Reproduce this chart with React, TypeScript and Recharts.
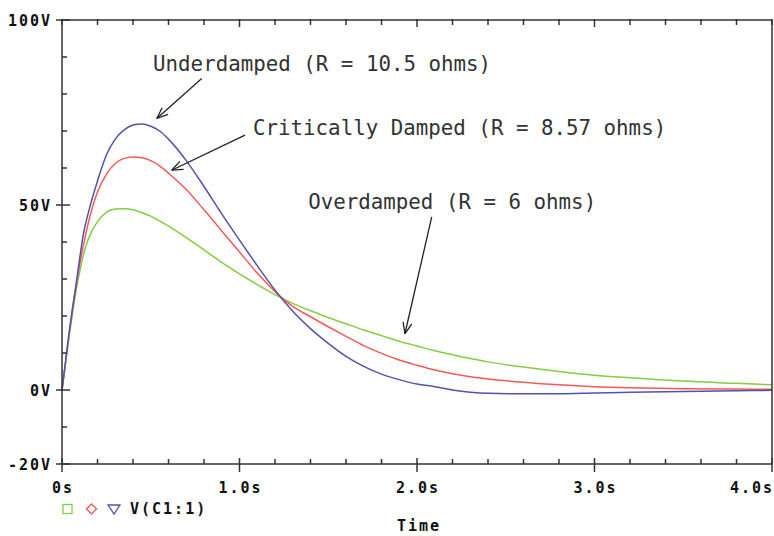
import React from "react";
import {
  Legend,
  Line,
  LineChart,
  ReferenceDot,
  ReferenceLine,
  XAxis,
  YAxis
} from "recharts";

// sample times (s)
const times = [
  0, 0.02, 0.04, 0.06, 0.08, 0.1, 0.12, 0.15, 0.2, 0.25,
  0.3, 0.35, 0.4, 0.45, 0.5, 0.55, 0.6, 0.7, 0.8, 0.9,
  1.0, 1.1, 1.2, 1.3, 1.4, 1.5, 1.6, 1.7, 1.8, 1.9,
  2.0, 2.1, 2.2, 2.3, 2.4, 2.6, 2.8, 3.0, 3.2, 3.5,
  3.8, 4.0
];

// V(C1:1) for each resistor value
const underdamped = [
  0, 7.7, 15.5, 22.5, 28.8, 35.7, 42, 48.2, 56.5, 63.5,
  67.8, 70.3, 71.6, 71.9, 71.3, 70.0, 67.8, 62.0, 55.0, 47.6,
  40.5, 33.6, 27.0, 21.3, 16.6, 12.6, 9.1, 6.4, 4.3, 2.8,
  1.6, 0.9, 0.0, -0.6, -0.9, -1.0, -1.0, -0.8, -0.6, -0.4,
  -0.2, -0.1
];
const critical = [
  0, 7.5, 15, 22, 28.3, 34, 39, 45.5, 53.5, 58.3,
  61.2, 62.6, 63.0, 62.8, 62.0, 60.6, 58.6, 54.2, 48.7, 43.0,
  37.3, 31.6, 26.6, 22.6, 19.8, 17.1, 14.5, 12.0, 9.9, 8.1,
  6.7, 5.4, 4.4, 3.6, 3.0, 2.1, 1.4, 0.9, 0.6, 0.35,
  0.25, 0.2
];
const overdamped = [
  0, 7.3, 14.5, 21, 27, 32, 36.5, 41, 45.5, 48,
  48.9, 49.0, 48.7, 47.9, 47.0, 45.7, 44.3, 41.2, 37.9, 34.5,
  31.4, 28.5, 25.8, 23.4, 21.4, 19.6, 17.9, 16.2, 14.7, 13.2,
  11.9, 10.6, 9.5, 8.5, 7.6, 6.2, 5.0, 4.0, 3.3, 2.4,
  1.8, 1.4
];

const xTicks = [
  0, 0.2, 0.4, 0.6, 0.8, 1, 1.2, 1.4, 1.6, 1.8, 2,
  2.2, 2.4, 2.6, 2.8, 3, 3.2, 3.4, 3.6, 3.8, 4
];
const xLabelTicks = [0, 1, 2, 3, 4];
const yTicks = [-20, -10, 0, 10, 20, 30, 40, 50, 60, 70, 80, 90, 100];
const yLabelTicks = [-20, 0, 50, 100];

// annotations, in data units (s, V)
const notes = [
  { text: "Underdamped (R = 10.5 ohms)", t: 0.513, v: 86.2, from: [0.787, 84.2], to: [0.534, 73.4] },
  { text: "Critically Damped (R = 8.57 ohms)", t: 1.076, v: 68.9, from: [1.031, 68.9], to: [0.618, 59.4] },
  { text: "Overdamped (R = 6 ohms)", t: 1.387, v: 49.0, from: [2.083, 46.8], to: [1.932, 15.2] }
];

const data = times.map((t, i) => ({
  t,
  over: overdamped[i],
  crit: critical[i],
  under: underdamped[i]
}));

const AXIS = "#333";
const tickFont = {
  fontFamily: "'DejaVu Sans Mono', monospace",
  fontWeight: 700,
  fontSize: 15,
  letterSpacing: 2,
  fill: "#111"
};

const LeftTick = ({ x, y, payload }: any) => {
  const v = payload.value;
  const major = yLabelTicks.includes(v);
  return (
    <g>
      <line x1={major ? x - 6 : x} x2={x + (major ? 8 : 5)} y1={y} y2={y} stroke={AXIS} strokeWidth={1.5} />
      {major && (
        <text x={x - 10} y={y} dy={5.5} textAnchor="end" {...tickFont}>
          {`${v}V`}
        </text>
      )}
    </g>
  );
};

const RightTick = ({ x, y, payload }: any) => {
  const v = payload.value;
  const major = v === 0 || v === 50;
  return <line x1={x - (major ? 9 : 5)} x2={x} y1={y} y2={y} stroke={AXIS} strokeWidth={1.5} />;
};

const BottomTick = ({ x, y, payload }: any) => {
  const v = payload.value;
  const major = xLabelTicks.includes(v);
  const last = v === 4;
  return (
    <g>
      <line x1={x} x2={x} y1={major ? y + 8 : y} y2={y - (major ? 6 : 5)} stroke={AXIS} strokeWidth={1.5} />
      {major && (
        <text x={last ? x + 2 : x + 1} y={y + 29} textAnchor={last ? "end" : "middle"} {...tickFont}>
          {v === 0 ? "0s" : `${v.toFixed(1)}s`}
        </text>
      )}
    </g>
  );
};

const TopTick = ({ x, y, payload }: any) => {
  const v = payload.value;
  const major = v === 1 || v === 2 || v === 3;
  return <line x1={x} x2={x} y1={y - 1} y2={y + (major ? 7 : 5)} stroke={AXIS} strokeWidth={1.5} />;
};

const Arrow = (p: any) => {
  const { x1, y1, x2, y2 } = p;
  const a = Math.atan2(y2 - y1, x2 - x1);
  const h = 12;
  const s = 0.38;
  return (
    <g stroke="#222" strokeWidth={1.3} fill="none">
      <line x1={x1} y1={y1} x2={x2} y2={y2} />
      <line x1={x2} y1={y2} x2={x2 - h * Math.cos(a - s)} y2={y2 - h * Math.sin(a - s)} />
      <line x1={x2} y1={y2} x2={x2 - h * Math.cos(a + s)} y2={y2 - h * Math.sin(a + s)} />
    </g>
  );
};

// legend markers keyed by series, in the order shown
const markerOrder = ["over", "crit", "under"];

const Marker = ({ kind, color }: { kind: string; color: string }) => {
  if (kind === "over") return <rect x={1} y={5.5} width={9} height={9} fill="none" stroke={color} strokeWidth={1.3} />;
  if (kind === "crit") return <path d="M29.5 5 L34.5 10 L29.5 15 L24.5 10 Z" fill="none" stroke={color} strokeWidth={1.3} />;
  return <path d="M46 6 L58 6 L52 15 Z" fill="none" stroke={color} strokeWidth={1.3} />;
};

const LegendContent = ({ payload }: any) => {
  const items = payload || [];
  return (
    <div style={{ display: "flex", alignItems: "center", height: 20, paddingLeft: 62 }}>
      <svg width={68} height={20}>
        {markerOrder.map((k) => {
          const item = items.find((it: any) => it.dataKey === k);
          return item ? <Marker key={k} kind={k} color={item.color} /> : null;
        })}
      </svg>
      <span
        style={{
          fontFamily: "'DejaVu Sans Mono', monospace",
          fontWeight: 700,
          fontSize: 15,
          letterSpacing: 2,
          color: "#111",
          lineHeight: "20px"
        }}
      >
        V(C1:1)
      </span>
    </div>
  );
};

const TimeLabel = (p: any) => {
  const vb = p.viewBox;
  return (
    <text x={vb.x + vb.width / 2 + 2} y={vb.y + 67} textAnchor="middle" {...tickFont}>
      Time
    </text>
  );
};

export default function App() {
  return (
    <div style={{ position: "absolute", left: 0, top: 0, width: 774, height: 536, background: "#fff" }}>
      <LineChart width={774} height={536} data={data} margin={{ top: 0, right: 0, left: 0, bottom: 17 }}>
        <XAxis
          dataKey="t"
          type="number"
          domain={[0, 4]}
          ticks={xTicks}
          interval={0}
          height={35}
          tickSize={0}
          tickMargin={0}
          tickLine={false}
          axisLine={{ stroke: AXIS, strokeWidth: 1.5 }}
          tick={<BottomTick />}
          label={TimeLabel}
        />
        <XAxis
          xAxisId="top"
          orientation="top"
          dataKey="t"
          type="number"
          domain={[0, 4]}
          ticks={xTicks}
          interval={0}
          height={20}
          tickSize={0}
          tickMargin={0}
          tickLine={false}
          axisLine={{ stroke: AXIS, strokeWidth: 1.5 }}
          tick={<TopTick />}
        />
        <YAxis
          type="number"
          domain={[-20, 100]}
          ticks={yTicks}
          interval={0}
          width={62}
          tickSize={0}
          tickMargin={0}
          tickLine={false}
          axisLine={{ stroke: AXIS, strokeWidth: 1.5 }}
          tick={<LeftTick />}
        />
        <YAxis
          yAxisId="right"
          orientation="right"
          type="number"
          domain={[-20, 100]}
          ticks={yTicks}
          interval={0}
          width={2}
          tickSize={0}
          tickMargin={0}
          tickLine={false}
          axisLine={{ stroke: AXIS, strokeWidth: 1.5 }}
          tick={<RightTick />}
        />
        <Legend verticalAlign="bottom" align="left" content={<LegendContent />} />
        <Line type="monotone" dataKey="over" name="R = 6" stroke="#84cc44" strokeWidth={1.5} dot={false} activeDot={false} isAnimationActive={false} />
        <Line type="monotone" dataKey="crit" name="R = 8.57" stroke="#f25a5a" strokeWidth={1.5} dot={false} activeDot={false} isAnimationActive={false} />
        <Line type="monotone" dataKey="under" name="R = 10.5" stroke="#5252b0" strokeWidth={1.5} dot={false} activeDot={false} isAnimationActive={false} />
        {notes.map((n) => (
          <ReferenceLine
            key={`a-${n.text}`}
            segment={[{ x: n.from[0], y: n.from[1] }, { x: n.to[0], y: n.to[1] }]}
            shape={<Arrow />}
            ifOverflow="visible"
          />
        ))}
        {notes.map((n) => (
          <ReferenceDot
            key={`n-${n.text}`}
            x={n.t}
            y={n.v}
            r={0}
            ifOverflow="visible"
            shape={(p: any) => (
              <text x={p.cx} y={p.cy} fontFamily="'DejaVu Sans Mono', monospace" fontSize={20.8} fill="#333">
                {n.text}
              </text>
            )}
          />
        ))}
      </LineChart>
    </div>
  );
}
